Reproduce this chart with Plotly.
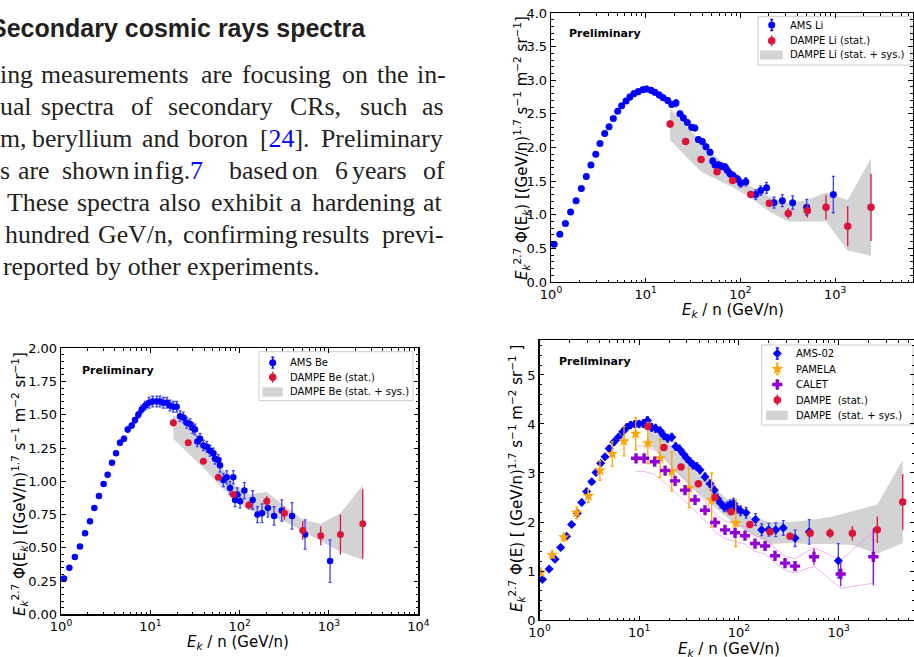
import plotly.graph_objects as go

W, H = 914, 657
def px(x): return x / W
def py(y): return 1 - y / H

# ---------------- Li data ----------------
li_ams_e = [1.08, 1.24, 1.42, 1.61, 1.84, 2.09, 2.36, 2.64, 2.97, 3.29, 3.69, 4.10, 4.55, 5.06, 5.57, 6.2, 6.8, 7.5, 8.3, 9.3,
            10.2, 11.4, 12.5, 13.9, 15.3, 17.1, 18.8, 20.9, 23.0, 25.0, 27.5, 30.6, 33.0, 36.0, 39.6, 43.3, 47.8, 51.0, 54.0,
            58.5, 63.0, 69.0, 72.7, 77.6, 84.0, 93.0, 100.7, 114, 145, 164, 189, 226, 277, 356, 501, 957]
li_ams_v = [0.56, 0.71, 0.87, 1.04, 1.21, 1.39, 1.57, 1.74, 1.90, 2.06, 2.21, 2.31, 2.43, 2.54, 2.62, 2.69, 2.75, 2.80, 2.83, 2.86,
            2.87, 2.85, 2.82, 2.78, 2.74, 2.70, 2.64, 2.66, 2.50, 2.44, 2.37, 2.30, 2.29, 2.12, 2.09, 2.01, 1.93, 1.80, 1.74,
            1.74, 1.72, 1.71, 1.66, 1.61, 1.58, 1.53, 1.47, 1.49, 1.30, 1.36, 1.40, 1.18, 1.21, 1.18, 1.11, 1.30]
li_ams_err = [0.01, 0.01, 0.01, 0.01, 0.01, 0.01, 0.01, 0.01, 0.015, 0.02, 0.02, 0.02, 0.03, 0.03, 0.03, 0.03, 0.04, 0.04, 0.04, 0.04,
              0.04, 0.04, 0.04, 0.04, 0.04, 0.04, 0.04, 0.05, 0.04, 0.04, 0.04, 0.04, 0.04, 0.04, 0.04, 0.04, 0.04, 0.04, 0.04,
              0.05, 0.05, 0.05, 0.05, 0.05, 0.05, 0.05, 0.06, 0.06, 0.07, 0.07, 0.08, 0.08, 0.09, 0.10, 0.12, 0.27]
li_dampe_e = [18.1, 26.4, 38.4, 56.6, 82.8, 128.5, 202, 320, 509, 801, 1358, 2393]
li_dampe_v = [2.35, 2.09, 1.82, 1.64, 1.51, 1.30, 1.17, 1.02, 1.06, 1.11, 0.83, 1.11]
li_dampe_err = [0.06, 0.03, 0.03, 0.03, 0.03, 0.04, 0.05, 0.08, 0.10, 0.18, 0.30, 0.50]
li_band_up = [2.58, 2.33, 2.08, 1.85, 1.65, 1.42, 1.27, 1.17, 1.22, 1.33, 1.22, 1.84]
li_band_lo = [2.11, 1.87, 1.64, 1.52, 1.41, 1.25, 1.05, 0.90, 0.90, 0.90, 0.47, 0.39]

# ---------------- Be data ----------------
be_ams_e = [1.08, 1.24, 1.43, 1.63, 1.86, 2.11, 2.36, 2.66, 3.00, 3.33, 3.72, 4.13, 4.58, 5.07, 5.58, 6.19, 6.74, 7.34, 8.0, 8.8,
            9.67, 10.6, 11.8, 12.8, 14.0, 15.3, 16.6, 18.1, 19.7, 21.5, 23.4, 25.5, 27.8, 29.8, 31.6, 33.6, 36.0, 39.3, 42.8,
            46.6, 50.8, 53.0, 57.8, 60.3, 65.7, 71.7, 78.0, 85.0, 88.8, 94.0, 101, 113, 140, 158, 178, 207, 243, 296, 386,
            540, 1028]
be_ams_v = [0.27, 0.35, 0.43, 0.51, 0.61, 0.70, 0.80, 0.89, 0.98, 1.05, 1.14, 1.21, 1.29, 1.32, 1.39, 1.42, 1.46, 1.50, 1.54, 1.57,
            1.59, 1.60, 1.60, 1.60, 1.59, 1.59, 1.57, 1.56, 1.56, 1.49, 1.48, 1.44, 1.43, 1.40, 1.39, 1.30, 1.32, 1.27, 1.26,
            1.23, 1.21, 1.17, 1.16, 1.12, 1.01, 1.03, 0.95, 1.03, 0.86, 0.90, 0.85, 0.93, 0.86, 0.75, 0.76, 0.80, 0.74, 0.78, 0.74,
            0.60, 0.40]
be_ams_err = [0.005, 0.005, 0.005, 0.005, 0.005, 0.005, 0.01, 0.01, 0.01, 0.01, 0.015, 0.015, 0.02, 0.02, 0.02, 0.02, 0.02, 0.025, 0.03, 0.03,
              0.04, 0.04, 0.04, 0.04, 0.04, 0.04, 0.04, 0.04, 0.04, 0.04, 0.04, 0.04, 0.04, 0.04, 0.04, 0.04, 0.04, 0.04, 0.04,
              0.04, 0.04, 0.04, 0.04, 0.05, 0.05, 0.05, 0.05, 0.05, 0.05, 0.05, 0.05, 0.06, 0.07, 0.06, 0.07, 0.07, 0.07, 0.08, 0.10,
              0.11, 0.16]
be_dampe_e = [18.1, 26.6, 39.2, 57.8, 85, 126.5, 201, 317, 508, 809, 1343, 2389]
be_dampe_v = [1.44, 1.29, 1.15, 1.03, 0.90, 0.82, 0.85, 0.76, 0.63, 0.59, 0.60, 0.68]
be_dampe_err = [0.03, 0.015, 0.015, 0.015, 0.02, 0.03, 0.04, 0.05, 0.07, 0.07, 0.15, 0.26]
be_band_up = [1.50, 1.40, 1.27, 1.14, 0.98, 0.90, 0.92, 0.82, 0.71, 0.68, 0.76, 0.97]
be_band_lo = [1.32, 1.21, 1.10, 0.98, 0.87, 0.78, 0.75, 0.70, 0.62, 0.55, 0.47, 0.41]

# ---------------- B data ----------------
b_ams_e = [1.07, 1.25, 1.43, 1.63, 1.87, 2.10, 2.40, 2.65, 2.97, 3.34, 3.69, 4.11, 4.54, 5.0, 5.58, 6.17, 6.83, 7.5, 8.2, 9.07,
           9.95, 11.0, 12.1, 13.3, 14.6, 16.2, 17.7, 19.3, 21.2, 23.2, 25.3, 27.7, 30.0, 32.4, 34.9, 37.8, 40.7, 45.7, 51.3,
           56.6, 60.8, 65.7, 71.4, 76.6, 81.5, 88.0, 95.0, 104, 118, 147, 169, 199, 234, 279, 366, 508, 993]
b_ams_v = [0.83, 1.04, 1.24, 1.48, 1.71, 1.95, 2.18, 2.40, 2.62, 2.82, 3.01, 3.20, 3.33, 3.50, 3.63, 3.73, 3.84, 3.93, 3.98, 4.00,
           4.00, 4.01, 4.07, 3.93, 3.91, 3.86, 3.76, 3.71, 3.73, 3.54, 3.49, 3.39, 3.30, 3.23, 3.16, 3.13, 3.06, 2.92, 2.78,
           2.65, 2.48, 2.38, 2.30, 2.31, 2.35, 2.38, 2.28, 2.23, 2.19, 2.05, 1.84, 1.84, 1.84, 1.88, 1.67, 1.80, 1.21]
b_ams_err = [0.01, 0.01, 0.01, 0.01, 0.02, 0.02, 0.02, 0.03, 0.03, 0.04, 0.05, 0.05, 0.05, 0.06, 0.06, 0.07, 0.07, 0.07, 0.07, 0.07,
             0.07, 0.08, 0.08, 0.08, 0.08, 0.08, 0.08, 0.08, 0.08, 0.08, 0.08, 0.08, 0.08, 0.08, 0.08, 0.08, 0.08, 0.08, 0.08,
             0.08, 0.09, 0.09, 0.09, 0.10, 0.10, 0.10, 0.10, 0.10, 0.11, 0.12, 0.12, 0.13, 0.14, 0.15, 0.17, 0.25, 0.35]
pam_e = [1.03, 1.34, 1.76, 2.36, 3.09, 4.04, 5.37, 7.04, 9.22, 12.2, 16.2, 21.2, 31.6, 53.3, 93]
pam_v = [0.97, 1.33, 1.69, 2.19, 2.53, 3.05, 3.39, 3.65, 3.80, 3.61, 3.30, 3.03, 2.69, 2.45, 1.98]
pam_err = [0.05, 0.06, 0.08, 0.12, 0.13, 0.20, 0.25, 0.30, 0.33, 0.42, 0.39, 0.40, 0.40, 0.55, 0.48]
cal_e = [9.29, 11.2, 14.3, 18.2, 22.9, 28.8, 36.3, 45.7, 57.6, 72.5, 91.4, 115, 145, 183, 230, 290, 365, 566, 1050, 2229]
cal_v = [3.30, 3.30, 3.23, 3.05, 2.84, 2.65, 2.45, 2.24, 1.99, 1.84, 1.78, 1.72, 1.56, 1.51, 1.31, 1.16, 1.10, 1.29, 0.94, 1.29]
cal_err = [0.03, 0.03, 0.03, 0.03, 0.03, 0.03, 0.03, 0.03, 0.04, 0.04, 0.04, 0.05, 0.05, 0.06, 0.07, 0.08, 0.09, 0.17, 0.25, 0.58]
cal_band_up = [3.55, 3.55, 3.47, 3.28, 3.06, 2.87, 2.65, 2.43, 2.17, 2.02, 1.96, 1.90, 1.72, 1.67, 1.46, 1.30, 1.25, 1.48, 1.22, 1.80]
cal_band_lo = [3.03, 3.03, 2.97, 2.80, 2.60, 2.42, 2.23, 2.03, 1.80, 1.66, 1.60, 1.55, 1.40, 1.35, 1.17, 1.02, 0.96, 1.10, 0.65, 0.75]
b_dampe_e = [12.2, 17.7, 26.3, 39.2, 57.6, 83.4, 129, 205, 326, 517, 820, 1373, 2444, 4395]
b_dampe_v = [3.95, 3.52, 3.12, 2.78, 2.50, 2.21, 1.95, 1.80, 1.71, 1.77, 1.77, 1.77, 1.84, 2.41]
b_dampe_err = [0.03, 0.03, 0.03, 0.03, 0.04, 0.04, 0.07, 0.05, 0.05, 0.08, 0.10, 0.15, 0.27, 0.57]
b_band_up = [3.90, 3.72, 3.32, 2.97, 2.68, 2.40, 2.12, 2.00, 2.00, 2.04, 2.10, 2.22, 2.35, 3.27]
b_band_lo = [3.62, 3.30, 2.92, 2.58, 2.30, 2.02, 1.76, 1.55, 1.57, 1.55, 1.55, 1.53, 1.35, 1.57]

BLUE = '#0000ff'
BLUE_E = '#4040ff'
RED = '#dc143c'
GRAY = '#d3d3d3'
ORANGE = '#ffa500'
PURPLE = '#9400d3'
CAL_LINE = 'rgba(230,130,238,0.6)'
TXT = '#231f20'

fig = go.Figure()

def band(x, up, lo, xa, ya, fill=GRAY, line=None):
    xs = list(x) + list(x)[::-1]
    ys = list(up) + list(lo)[::-1]
    fig.add_trace(go.Scatter(x=xs, y=ys, mode='lines', fill='toself',
                             fillcolor=fill,
                             line=dict(width=1 if line else 0, color=line or fill),
                             xaxis=xa, yaxis=ya, hoverinfo='skip', showlegend=False))

def pts(x, y, err, xa, ya, color, symbol, size, ecolor=None, cap=0.0, thick=1.3):
    fig.add_trace(go.Scatter(x=x, y=y, mode='markers',
                             marker=dict(color=color, symbol=symbol, size=size, line=dict(width=0)),
                             error_y=dict(type='data', array=err, color=ecolor or color, thickness=thick, width=cap),
                             xaxis=xa, yaxis=ya, showlegend=False, hoverinfo='skip'))

# Li
band(li_dampe_e, li_band_up, li_band_lo, 'x', 'y')
pts(li_ams_e, li_ams_v, li_ams_err, 'x', 'y', BLUE, 'circle', 7, BLUE_E, 1.5)
pts(li_dampe_e, li_dampe_v, li_dampe_err, 'x', 'y', RED, 'circle', 7.5)
# Be
band(be_dampe_e, be_band_up, be_band_lo, 'x2', 'y2')
pts(be_ams_e, be_ams_v, be_ams_err, 'x2', 'y2', BLUE, 'circle', 6.5, BLUE_E, 1.5)
pts(be_dampe_e, be_dampe_v, be_dampe_err, 'x2', 'y2', RED, 'circle', 7)
# B
band(b_dampe_e, b_band_up, b_band_lo, 'x3', 'y3')
band(cal_e, cal_band_up, cal_band_lo, 'x3', 'y3', fill='rgba(0,0,0,0)', line=CAL_LINE)
pts(b_ams_e, b_ams_v, b_ams_err, 'x3', 'y3', BLUE, 'diamond', 7, BLUE_E, 1.5)
pts(pam_e, pam_v, pam_err, 'x3', 'y3', ORANGE, 'star', 9, ORANGE, 1.5)
pts(cal_e, cal_v, cal_err, 'x3', 'y3', PURPLE, 'cross', 8.5, PURPLE, 0)
pts(b_dampe_e, b_dampe_v, b_dampe_err, 'x3', 'y3', RED, 'circle', 7.5)

# ---------------- axes ----------------
minor_log = [m * 10 ** d for d in range(0, 4) for m in range(2, 10)]
dec_vals = [1, 10, 100, 1000, 10000]
dec_text = ['10<sup>0</sup>', '10<sup>1</sup>', '10<sup>2</sup>', '10<sup>3</sup>', '10<sup>4</sup>']

TF = dict(family='DejaVu Sans', size=13, color='black')
base = dict(showline=True, linecolor='black', linewidth=1.3, mirror='ticks', ticks='inside',
            tickcolor='black', ticklen=4.5, tickwidth=1, showgrid=False, zeroline=False,
            tickfont=TF, fixedrange=True, automargin=False)

def xlog(domain, rng, anchor):
    d = dict(base)
    d.update(type='log', domain=domain, range=rng, anchor=anchor, tickvals=dec_vals, ticktext=dec_text,
             minor=dict(ticks='inside', ticklen=2.5, tickcolor='black', tickvals=minor_log, showgrid=False))
    return d

def ylin(domain, rng, dtick, mdtick, fmt, anchor):
    d = dict(base)
    d.update(domain=domain, range=rng, dtick=dtick, tick0=0, tickformat=fmt, anchor=anchor,
             minor=dict(ticks='inside', ticklen=2.5, tickcolor='black', dtick=mdtick, tick0=0, showgrid=False))
    return d

fig.update_layout(
    xaxis=xlog([px(551), px(912.5)], [0, 3.817], 'y'),
    yaxis=ylin([py(282), py(13)], [0, 4.0], 0.5, 0.1, '.1f', 'x'),
    xaxis2=xlog([px(61), px(418.3)], [0, 4], 'y2'),
    yaxis2=ylin([py(614.3), py(348.3)], [0, 2.0], 0.25, 0.05, '.2f', 'x2'),
    xaxis3=xlog([px(539.5), 1.0], [0, 3.756], 'y3'),
    yaxis3=ylin([py(620), py(340)], [0, 5.714], 1, 0.2, 'd', 'x3'),
    xaxis4=dict(domain=[0, 1], range=[0, W], visible=False, anchor='y4', fixedrange=True),
    yaxis4=dict(domain=[0, 1], range=[H, 0], visible=False, anchor='x4', fixedrange=True),
)

# ---------------- legends (manual) ----------------
shapes = []
def legbox(x0, y0, x1, y1):
    shapes.append(dict(type='rect', xref='paper', yref='paper', x0=px(x0), x1=px(x1), y0=py(y1), y1=py(y0),
                       line=dict(color='#cccccc', width=1), fillcolor='white', layer='below'))
def patch(x0, y0, x1, y1):
    shapes.append(dict(type='rect', xref='paper', yref='paper', x0=px(x0), x1=px(x1), y0=py(y1), y1=py(y0),
                       line=dict(width=0), fillcolor=GRAY, layer='below'))

annotations = []
def txt(x, y, s, size=10, family='DejaVu Sans', color='black', xanchor='left', yanchor='middle', angle=0):
    annotations.append(dict(x=px(x), y=py(y), xref='paper', yref='paper', text=s, showarrow=False,
                            xanchor=xanchor, yanchor=yanchor, textangle=angle, borderpad=0, borderwidth=0,
                            font=dict(family=family, size=size, color=color)))

def key(x, y, color, symbol, size, cap=1.5):
    fig.add_trace(go.Scatter(x=[x], y=[y], mode='markers', xaxis='x4', yaxis='y4',
                             marker=dict(color=color, symbol=symbol, size=size, line=dict(width=0)),
                             error_y=dict(type='constant', value=5.5, color=color, thickness=1.3, width=cap),
                             showlegend=False, hoverinfo='skip'))

# Li legend
legbox(758, 16.7, 911, 65)
key(771.7, 25, BLUE, 'circle', 7)
key(771.7, 40.7, RED, 'circle', 7.5, 0)
patch(760, 50.5, 782.7, 59.5)
txt(790, 25, 'AMS Li')
txt(790, 40.7, 'DAMPE Li (stat.)')
txt(790, 55, 'DAMPE Li (stat. + sys.)')

# Be legend
legbox(259, 351.7, 413, 400.7)
key(272.7, 362.7, BLUE, 'circle', 7)
key(272.7, 377.3, RED, 'circle', 7.5, 0)
patch(262.3, 387.3, 282.7, 396.7)
txt(290, 362.7, 'AMS Be')
txt(290, 377.3, 'DAMPE Be (stat.)')
txt(290, 391.7, 'DAMPE Be (stat. + sys.)')

# B legend
legbox(761.7, 345, 913, 425)
key(777.3, 353.5, BLUE, 'diamond', 7)
key(777.3, 369, ORANGE, 'star', 9)
key(777.3, 384.5, PURPLE, 'cross', 8.5, 0)
key(777.3, 400, RED, 'circle', 7.5, 0)
patch(766, 410.7, 787.7, 420)
txt(796, 353.5, 'AMS-02')
txt(796, 369, 'PAMELA')
txt(796, 384.5, 'CALET')
txt(796, 400, 'DAMPE  (stat.)')
txt(796, 415.5, 'DAMPE  (stat. + sys.)')

# Preliminary labels
txt(569, 33, '<b>Preliminary</b>', size=11)
txt(81.7, 370.7, '<b>Preliminary</b>', size=11)
txt(559, 361.7, '<b>Preliminary</b>', size=11)

# axis titles
ytit = ('<i>E</i><sub><i>k</i></sub><sup>2.7</sup> Φ(E<sub><i>k</i></sub>) '
        '[(GeV/n)<sup>1.7</sup> s<sup>−1</sup> m<sup>−2</sup> sr<sup>−1</sup>]')
ytit_b = ('<i>E</i><sub><i>k</i></sub><sup>2.7</sup> Φ(E) '
          '[ (GeV/n)<sup>1.7</sup> s<sup>−1</sup> m<sup>−2</sup> sr<sup>−1</sup> ]')
xtit = '<i>E</i><sub><i>k</i></sub> / n (GeV/n)'
txt(521, 148, ytit, size=15, xanchor='center', angle=-90)
txt(19, 484, ytit, size=15, xanchor='center', angle=-90)
txt(516, 479, ytit_b, size=15, xanchor='center', angle=-90)
txt(733, 311, xtit, size=15, xanchor='center')
txt(237.5, 642, xtit, size=15, xanchor='center')
txt(729, 649, xtit, size=15, xanchor='center')

# ---------------- page text ----------------
txt(-9.7, 37 - 8.7, '<b>Secondary cosmic rays spectra</b>', size=25, family='Liberation Sans', color=TXT)

L = '<span style="color:#0000ff">'
body = [
    (83, [(0, 'ing'), (40.7, 'measurements'), (201, 'are'), (242.3, 'focusing'), (341.7, 'on'), (376.7, 'the'), (416.7, 'in-')]),
    (115, [(0, 'ual'), (40.7, 'spectra'), (131, 'of'), (168.3, 'secondary'), (290, 'CRs,'), (360, 'such'), (421.7, 'as')]),
    (147, [(0, 'm,'), (31.7, 'beryllium'), (141.7, 'and'), (188.3, 'boron'), (260, '[' + L + '24</span>].'), (321, 'Preliminary')]),
    (179, [(0, 's'), (18.3, 'are'), (61.7, 'shown'), (133.3, 'in'), (155, 'fig.' + L + '7</span>'), (229.3, 'based'),
           (291.7, 'on'), (335, '6'), (351.7, 'years'), (422.7, 'of')]),
    (211, [(6.7, 'These'), (76.7, 'spectra'), (159.3, 'also'), (211, 'exhibit'), (290, 'a'), (311.7, 'hardening'), (423.3, 'at')]),
    (243, [(5, 'hundred'), (98.3, 'GeV/n,'), (182.7, 'confirming'), (301.7, 'results'), (381.7, 'previ-')]),
    (275, [(3.3, 'reported by other experiments.')]),
]
for base_y, words in body:
    for x, w in words:
        txt(x, base_y - 8.7, w, size=25.8, family='Liberation Serif', color=TXT)

fig.update_layout(
    width=W, height=H, margin=dict(l=0, r=0, t=0, b=0, pad=0, autoexpand=False),
    paper_bgcolor='white', plot_bgcolor='rgba(0,0,0,0)',
    showlegend=False, shapes=shapes, annotations=annotations,
)

fig.write_html('out.html', config={'displayModeBar': False, 'staticPlot': True},
               post_script="document.body.style.margin='0';document.body.style.overflow='hidden';")
